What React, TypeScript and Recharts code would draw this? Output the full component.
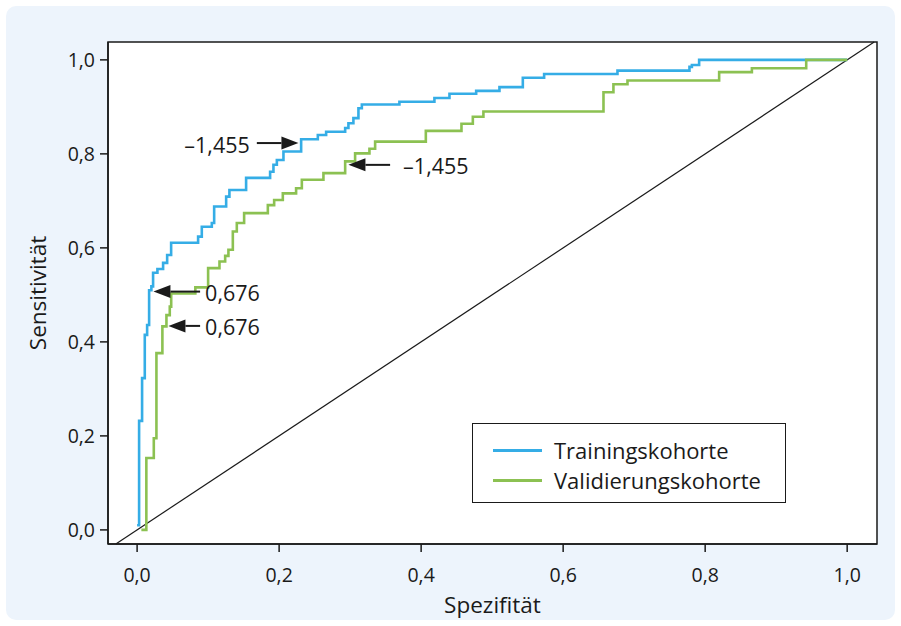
import React from "react";
import { LineChart, Line, XAxis, YAxis, ReferenceArea, ReferenceLine, Legend } from "recharts";

// ROC step curves: each point = end of a horizontal segment (x) at its level (y)
const trainFpr = [
  0, 0.0028, 0.007, 0.0108, 0.0141, 0.0169, 0.0201, 0.0225, 0.0286, 0.0366, 0.0423, 0.0479,
  0.0859, 0.0911, 0.1052, 0.1085, 0.1254, 0.13, 0.1535, 0.1873, 0.192, 0.1968, 0.2061, 0.231,
  0.2545, 0.2662, 0.293, 0.2976, 0.3046, 0.3117, 0.3165, 0.3694, 0.4187, 0.4399, 0.4775, 0.5103,
  0.5432, 0.5732, 0.6765, 0.7779, 0.7813, 0.7915, 1.0,
];
const trainTpr = [
  0.01, 0.01, 0.232, 0.323, 0.415, 0.436, 0.51, 0.518, 0.547, 0.555, 0.568, 0.585,
  0.611, 0.624, 0.645, 0.653, 0.688, 0.709, 0.723, 0.749, 0.762, 0.777, 0.787, 0.805,
  0.831, 0.84, 0.847, 0.855, 0.865, 0.876, 0.897, 0.905, 0.911, 0.919, 0.928, 0.934,
  0.942, 0.962, 0.97, 0.977, 0.985, 0.989, 1.0,
];
const valFpr = [
  0.006, 0.013, 0.0235, 0.0272, 0.0356, 0.0413, 0.046, 0.048, 0.082, 0.1, 0.116, 0.124,
  0.1286, 0.1348, 0.1404, 0.1507, 0.1841, 0.193, 0.2052, 0.2239, 0.232, 0.2624, 0.293, 0.307,
  0.3272, 0.3352, 0.4066, 0.4568, 0.4728, 0.4877, 0.6568, 0.6708, 0.6906, 0.8197, 0.8658, 0.9423, 1.0,
];
const valTpr = [
  0, 0, 0.153, 0.195, 0.376, 0.433, 0.457, 0.475, 0.503, 0.516, 0.557, 0.571,
  0.583, 0.596, 0.635, 0.653, 0.674, 0.691, 0.702, 0.716, 0.727, 0.745, 0.759, 0.784,
  0.801, 0.811, 0.826, 0.849, 0.864, 0.879, 0.89, 0.931, 0.948, 0.956, 0.974, 0.982, 1.0,
];

const seriesNames = ["Trainingskohorte", "Validierungskohorte"];
const axisTicks = [0, 0.2, 0.4, 0.6, 0.8, 1.0];

// cut-off annotations: arrow tip, arrow tail (data units) and text
const annTipX = [0.2272, 0.2976, 0.023, 0.0441];
const annTipY = [0.823, 0.7766, 0.507, 0.434];
const annTailX = [0.1686, 0.3563, 0.0887, 0.0887];
const annText = ["–1,455", "–1,455", "0,676", "0,676"];
const annGap = [7, 13, 5, 5];

const trainData = trainFpr.map((x, i) => ({ x, y: trainTpr[i] }));
const valData = valFpr.map((x, i) => ({ x, y: valTpr[i] }));

const FONT = "'Open Sans', 'Noto Sans', sans-serif";
const INK = "#1a1a1a";
const BLUE = "#35ade6";
const GREEN = "#8cc152";

const fmt = (v: number) => v.toFixed(1).replace(".", ",");

function Arrow(props: any) {
  const { x1, y1, x2, y2, text, gap } = props;
  const dir = x2 > x1 ? 1 : -1;
  const head = 17;
  const half = 6.5;
  const baseX = x2 - dir * head;
  return (
    <g>
      <line x1={x1} y1={y1} x2={baseX} y2={y2} stroke={INK} strokeWidth={2} />
      <polygon points={`${x2},${y2} ${baseX},${y2 - half} ${baseX},${y2 + half}`} fill={INK} />
      <text
        x={dir > 0 ? x1 - gap : x1 + gap}
        y={y1 + 1}
        textAnchor={dir > 0 ? "end" : "start"}
        dominantBaseline="central"
        fontSize={21.5}
        fontFamily={FONT}
        fill={INK}
      >
        {text}
      </text>
    </g>
  );
}

const renderLegend = (props: any) => (
  <div
    style={{
      border: `1.5px solid ${INK}`,
      background: "#fff",
      width: 314,
      height: 80,
      boxSizing: "border-box",
      padding: "11px 0 0 20px",
      fontFamily: FONT,
      fontSize: 22,
      color: INK,
    }}
  >
    {(props.payload || []).map((e: any) => (
      <div key={e.value} style={{ display: "flex", alignItems: "center", height: 30 }}>
        <span style={{ width: 49, height: 3, background: e.color, marginRight: 12 }} />
        <span>{e.value}</span>
      </div>
    ))}
  </div>
);

export default function App() {
  const tick = { fill: INK, fontSize: 19.5, fontFamily: FONT };
  const title = { fill: INK, fontSize: 22.5, fontFamily: FONT };
  return (
    <div
      style={{
        position: "absolute",
        left: 6,
        top: 6,
        width: 889,
        height: 614,
        background: "#edf4fc",
        borderRadius: 10,
      }}
    >
      <LineChart width={889} height={614} margin={{ top: 36, right: 18, bottom: 6, left: 22 }}>
        <ReferenceArea
          x1={-0.041}
          x2={1.042}
          y1={-0.03}
          y2={1.038}
          fill="#fff"
          fillOpacity={1}
          stroke={INK}
          strokeWidth={1.5}
          ifOverflow="visible"
        />
        <XAxis
          type="number"
          dataKey="x"
          domain={[-0.041, 1.042]}
          ticks={axisTicks}
          tickFormatter={fmt}
          allowDataOverflow
          stroke={INK}
          strokeWidth={1.5}
          tickSize={8}
          tickMargin={16}
          tick={tick}
          height={70}
          label={{ value: "Spezifität", position: "insideBottom", offset: 1, style: title }}
        />
        <YAxis
          type="number"
          domain={[-0.03, 1.038]}
          ticks={axisTicks}
          tickFormatter={fmt}
          allowDataOverflow
          stroke={INK}
          strokeWidth={1.5}
          tickSize={8}
          tickMargin={5}
          tick={tick}
          width={80}
          label={{
            value: "Sensitivität",
            angle: -90,
            position: "insideLeft",
            offset: 10,
            style: { ...title, textAnchor: "middle" },
          }}
        />
        <ReferenceLine
          segment={[
            { x: -0.03, y: -0.03 },
            { x: 1.038, y: 1.038 },
          ]}
          stroke={INK}
          strokeWidth={1.2}
          ifOverflow="visible"
        />
        <Line
          data={trainData}
          dataKey="y"
          name={seriesNames[0]}
          type="stepBefore"
          stroke={BLUE}
          strokeWidth={2.6}
          dot={false}
          activeDot={false}
          isAnimationActive={false}
        />
        <Line
          data={valData}
          dataKey="y"
          name={seriesNames[1]}
          type="stepBefore"
          stroke={GREEN}
          strokeWidth={2.6}
          dot={false}
          activeDot={false}
          isAnimationActive={false}
        />
        {annText.map((t, i) => (
          <ReferenceLine
            key={i}
            segment={[
              { x: annTailX[i], y: annTipY[i] },
              { x: annTipX[i], y: annTipY[i] },
            ]}
            ifOverflow="visible"
            shape={(p: any) => <Arrow {...p} text={t} gap={annGap[i]} />}
          />
        ))}
        <Legend
          layout="horizontal"
          verticalAlign="middle"
          align="center"
          content={renderLegend}
          wrapperStyle={{ position: "absolute", left: 466, top: 417, width: 314, height: 80 }}
        />
      </LineChart>
    </div>
  );
}
